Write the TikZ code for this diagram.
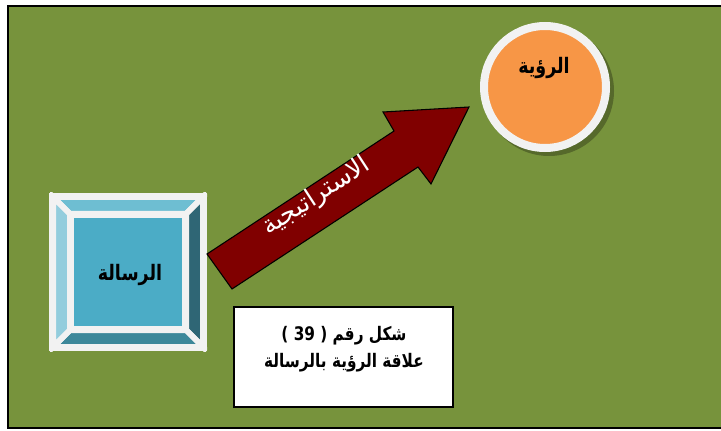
\documentclass[tikz,border=0pt]{standalone}
\usepackage{fontspec}
\newfontfamily\arabicfont[Script=Arabic, FakeStretch=0.82]{DejaVu Sans}
\newfontfamily\arrowfont[Script=Arabic]{DejaVu Sans}
\TeXXeTstate=1
\usetikzlibrary{positioning}
\definecolor{fieldgreen}{HTML}{77933C}
\definecolor{shadegreen}{HTML}{56692B}
\definecolor{arrowred}{HTML}{800000}
\definecolor{visorange}{HTML}{F79646}
\definecolor{rimwhite}{HTML}{F2F2F2}
\definecolor{faceblue}{HTML}{4BACC6}
\definecolor{bevtop}{HTML}{6EBED2}
\definecolor{bevleft}{HTML}{93CDDD}
\definecolor{bevright}{HTML}{2F6675}
\definecolor{bevbottom}{HTML}{3D889A}

\begin{document}
\begin{tikzpicture}[x=0.75pt,y=-0.75pt]
    \tikzstyle{artxt}=[inner sep=0pt, font=\arabicfont\bfseries\fontsize{14}{20}\selectfont]
    \tikzstyle{bigtxt}=[inner sep=0pt, font=\arabicfont\bfseries\fontsize{16}{20}\selectfont]
    \tikzstyle{bevel}=[draw=rimwhite, line width=4.5pt, line join=miter]
    \useasboundingbox (0,0) rectangle (721,431);
    % background field
    \draw[fill=fieldgreen, line width=1.5pt] (8,6) rectangle (730,428);
    % bevelled square
    \fill[rimwhite] (49,193) rectangle (207,351);
    \coordinate (o1) at (53,197);  \coordinate (o2) at (203,197);
    \coordinate (o3) at (203,347); \coordinate (o4) at (53,347);
    \coordinate (i1) at (70,214);  \coordinate (i2) at (186,214);
    \coordinate (i3) at (186,330); \coordinate (i4) at (70,330);
    \begin{scope}
      \clip (49,193) rectangle (207,351);
      \foreach \a/\b/\c in {1/2/bevtop, 2/3/bevright, 3/4/bevbottom, 4/1/bevleft}
      {\filldraw[bevel, fill=\c] (o\a) -- (o\b) -- (i\b) -- (i\a) -- cycle;}
    \end{scope}
    \node[fill=faceblue, minimum width=81pt, minimum height=81pt] (msg) at (128,272) {};
    \node[bigtxt] (msglbl) at (130,275) {\beginR الرسالة\endR};
    % vision circle
    \fill[shadegreen] (549,91) circle (65);
    \node[circle, fill=visorange, draw=rimwhite, line width=6pt, minimum size=91.5pt] (vis) at (545,87) {};
    \node[bigtxt] (vislbl) at (544,68) {\beginR الرؤية\endR};
    % strategy arrow
    \draw[fill=arrowred, line width=0.8pt, line join=miter]
        (207,254) -- (394,131) -- (383,112) -- (469,107) -- (431,184) -- (418,167) -- (232,289) -- cycle;
    \node[inner sep=0pt, anchor=base, text=white, rotate=33, font=\arrowfont\fontsize{19}{22}\selectfont] (strat) at (320,202) {\beginR الاستراتيجية\endR};
    % caption
    \node[draw, fill=white, line width=1.5pt, minimum width=164pt, minimum height=75pt] (capbox) at (343.5,357) {};
    \node[artxt, align=center] (captxt) at (344,349) {\beginR شكل رقم \beginL) 39 (\endL\endR\\ \beginR علاقة الرؤية بالرسالة\endR};
\end{tikzpicture}
\end{document}
